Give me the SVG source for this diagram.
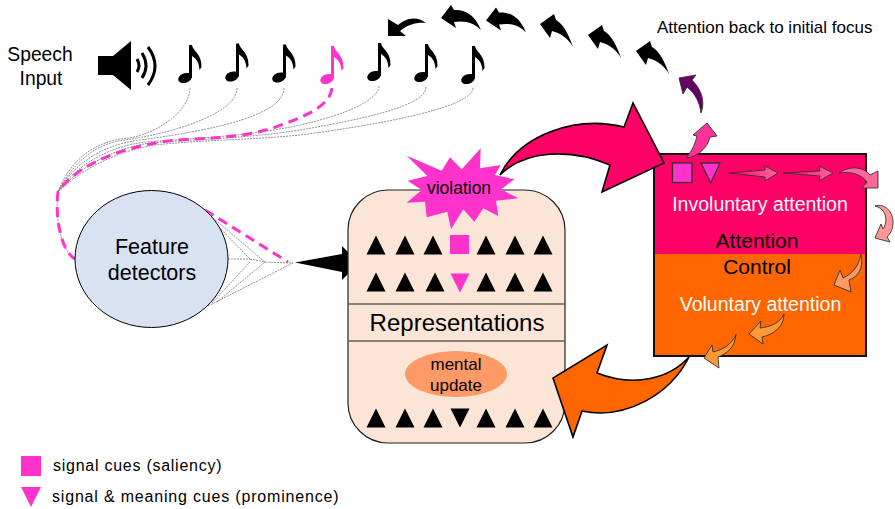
<svg xmlns="http://www.w3.org/2000/svg" width="895" height="509" viewBox="0 0 895 509">
<style>
text{font-family:"Liberation Sans",Arial,sans-serif;fill:#000;text-anchor:middle}
.w{fill:#fff}
.l{text-anchor:start}
.g{fill:none;stroke:#777;stroke-width:.8;stroke-dasharray:2 1}
.p{fill:none;stroke:#ff33cc;stroke-width:3;stroke-dasharray:10 6}
.k{fill:#000}
.m{fill:#ff33cc}
.s{stroke:#333;stroke-width:.9}
</style>
<defs>
<g id="note"><ellipse cx="7" cy="33" rx="7" ry="4.8" transform="rotate(-20 7 33)"/><path d="M11,32V0H14C15,6 24,9 23.500,22L21.500,25C21,18 19,14 14,11V33Z"/></g>
<path id="up" d="M-9.500,-9.500H9.500L0,9.500Z" transform="rotate(180)"/>
<path id="tri" d="M-9.500,9.500H9.500L0,-9.500Z"/>
<path id="a1" d="M481,30C475,15 465,9 454,10L451,5L441,18L456,28L454,22C465,20 475,23 481,30Z"/>
<path id="a2" d="M573,47C568,32 562,23 556,20L554,14L540,24L550,38L552,31C560,33 568,38 573,47Z"/>
<linearGradient id="gr" x1="0" x2="1" y1="0" y2="0"><stop offset="0" stop-color="#ff0066"/><stop offset="1" stop-color="#ff6699"/></linearGradient>
</defs>

<g id="connectors">
<path class="g" d="M190,88C190,110 160,132 130,138C95,140 70,160 58,192"/>
<path class="g" d="M237,88C237,112 180,132 125,140C95,143 72,164 58,192"/>
<path class="g" d="M284,88C284,115 215,130 140,140C100,145 72,166 58,192"/>
<path class="g" d="M379,86C379,100 345,115 300,125C250,136 200,138 145,142C105,147 74,168 58,192"/>
<path class="g" d="M426,87C426,105 370,118 300,130C250,138 200,139 150,143C110,149 76,170 58,192"/>
<path class="g" d="M473,88C473,105 400,122 300,135C250,140 200,140 155,145C115,151 78,172 58,192"/>
<path class="g" d="M58,192C55,215 60,250 75,259"/>
<path class="p" d="M332,88C330,108 300,118 273,128C240,138 210,138 177,140C135,144 80,160 58,192C55,215 60,250 75,259"/>
<path class="g" d="M228,259L250,259M217,225L250,259M212,303L250,262M250,259L265,262M213,218L265,262M217,302L265,262M265,262L293,263M208,306L293,263"/>
<path class="p" d="M205,210L288,262"/>
</g>

<g id="speech-input">
<text font-size="19.300" x="40" y="61">Speech</text>
<text font-size="19.300" x="41" y="85">Input</text>
<path class="k" d="M98,56H113L131,41V90L113,75H98Z"/>
<path d="M137,59Q141,66 137,72M142,53Q150,66 142,78M148,47Q162,66 148,85" fill="none" stroke="#000" stroke-width="3"/>
</g>

<g id="notes">
<use href="#note" x="178" y="45"/>
<use href="#note" x="225" y="43.500"/>
<use href="#note" x="272" y="44.500"/>
<use href="#note" x="320" y="46" fill="#ff33cc"/>
<use href="#note" x="367" y="43"/>
<use href="#note" x="414" y="44"/>
<use href="#note" x="461" y="46"/>
</g>

<g id="feature-detectors">
<ellipse cx="151.500" cy="259" rx="76.500" ry="68.500" fill="#d9e2f3" stroke="#000" stroke-width="1"/>
<text font-size="21.500" x="152" y="254">Feature</text>
<text font-size="21.500" x="152" y="280">detectors</text>
</g>

<g id="input-arrow"><path class="k" d="M295,262.500L342,254V246L359,263L342,280V272Z"/></g>

<g id="representations">
<rect x="348" y="190" width="217" height="253" rx="40" fill="#fbe5d6" stroke="#222" stroke-width="1.200"/>
<path d="M348,304H565M348,341H565" stroke="#6b5e55" stroke-width="1.300" fill="none"/>
<g class="k">
<use href="#tri" x="376" y="245"/><use href="#tri" x="405" y="245"/><use href="#tri" x="433" y="245"/><use href="#tri" x="486" y="245"/><use href="#tri" x="515" y="245"/><use href="#tri" x="543" y="245"/>
<use href="#tri" x="376" y="282"/><use href="#tri" x="405" y="282"/><use href="#tri" x="435" y="282"/><use href="#tri" x="486" y="282"/><use href="#tri" x="515" y="282"/><use href="#tri" x="543" y="282"/>
<use href="#tri" x="376" y="418"/><use href="#tri" x="405" y="418"/><use href="#tri" x="433" y="418"/><use href="#tri" x="486" y="418"/><use href="#tri" x="515" y="418"/><use href="#tri" x="543" y="418"/>
<use href="#tri" x="460" y="418" transform="rotate(180 460 418)"/>
</g>
<rect class="m" x="450" y="235" width="19" height="19"/>
<use class="m" href="#tri" x="460" y="283" transform="rotate(180 460 283)"/>
<text font-size="24" x="457" y="331">Representations</text>
<ellipse cx="456" cy="374" rx="51" ry="23" fill="#ff9966"/>
<text font-size="17" x="456" y="370">mental</text>
<text font-size="17" x="456" y="391">update</text>
</g>

<g id="violation">
<path class="m" d="M406.700,155.700L441.700,170.700L450,157.300L461.700,169.300L480.700,148.300L480,168.300L500.700,165L495,175L514.300,179.300L501,189.300L518.300,198.300L496,200.700L498.300,216L483.300,208.300L474.300,221.700L463.300,209.300L451,229.300L447.300,211.700L426.700,217.300L425,201.700L406.700,202.700L421.700,190L407.700,180.700L427.300,176Z"/>
<text font-size="17.500" x="459" y="194">violation</text>
</g>

<g id="attention-control">
<rect x="654" y="154" width="212" height="100" fill="#ff0066"/>
<rect x="654" y="254" width="212" height="102" fill="#ff6600"/>
<rect x="654" y="154" width="212" height="202" fill="none" stroke="#111" stroke-width="2"/>
<rect x="672.500" y="163" width="19.500" height="19.500" fill="#ff33cc" stroke="#333" stroke-width="1.300"/>
<path d="M701,163H720L710.700,183Z" fill="#ff33cc" stroke="#333" stroke-width="1.300"/>
<text class="w" font-size="19.500" x="760" y="211">Involuntary attention</text>
<text font-size="21" x="757" y="248">Attention</text>
<text font-size="21" x="757" y="274">Control</text>
<text class="w" font-size="19.500" x="760.500" y="311">Voluntary attention</text>
</g>

<g id="attention-flow">
<path fill="#ff0066" stroke="#000" stroke-width="1.600" d="M500,175C520,135 575,115 624,127L633,103L664,163L602,192L610,165C570,148 525,150 500,175Z"/>
<path fill="#ff6600" stroke="#000" stroke-width="1.600" d="M689,357C670,378 635,388 597,373L607,345L553,378L573,437L582,411C625,420 670,395 689,357Z"/>
<path class="s" fill="url(#gr)" d="M729,173L765,170V166L778,173L765,181V177Z"/>
<path class="s" fill="url(#gr)" d="M783,173L820,171L819,166L833,173L819,181L820,176Z"/>
<path class="s" fill="#ff6699" d="M839,173C850,165 864,167 870,175L878,171V188H862L867,182C862,175 852,171 839,173Z"/>
<path class="s" fill="#ff9999" d="M875,206C885,203 893,212 893,222C893,230 890,234 887,237L890,242L875,238L881,224L883,229C888,222 887,209 875,206Z"/>
<path class="s" fill="#ff9966" d="M861,254C864,270 857,277 849,280L851,292L834,285L840,270L843,278C852,274 859,266 861,254Z"/>
<path class="s" fill="#ff9933" d="M784,314C784,326 775,334 762,337L763,344L749,334L761,321L760,328C770,327 780,323 784,314Z"/>
<path class="s" fill="#ff9933" d="M736,334C735,347 728,353 718,357L719,368L704,358L712,345L713,352C722,350 732,345 736,334Z"/>
<path class="s" fill="#ff3399" d="M686,158C693,150 695,143 697,136L693,135L707,123L717,136L710,137C708,147 698,157 686,158Z"/>
<path class="s" fill="#660066" d="M701,113C706,100 700,88 692,80L696,75L679,78L683,94L687,87C695,93 700,103 701,113Z"/>
<path class="k" d="M426,23C416,15 405,19 398,25L388,19V36H406L400,31C408,24 418,22 426,23Z"/>
<use class="k" href="#a1"/>
<use class="k" href="#a1" x="45" y="2.500"/>
<use class="k" href="#a2"/>
<use class="k" href="#a2" x="48" y="11"/>
<use class="k" href="#a2" x="96" y="27"/>
<text class="l" font-size="17" x="657" y="33">Attention back to initial focus</text>
</g>

<g id="legend">
<rect class="m" x="21" y="456" width="20" height="20"/>
<path class="m" d="M21,487H41L31,507Z"/>
<text class="l" font-size="16" letter-spacing=".5" x="53" y="471" textLength="169" lengthAdjust="spacing">signal cues (saliency)</text>
<text class="l" font-size="16" letter-spacing=".5" x="52" y="502" textLength="287" lengthAdjust="spacing">signal &amp; meaning cues (prominence)</text>
</g>
</svg>
